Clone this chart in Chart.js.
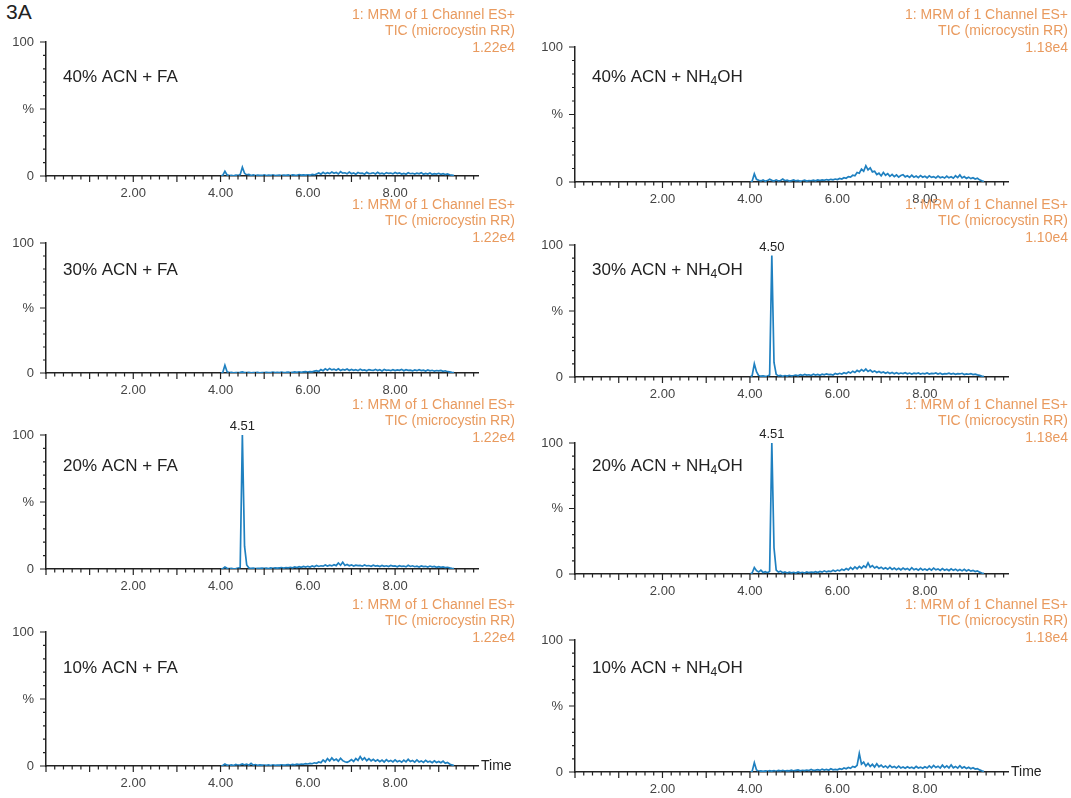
<!DOCTYPE html>
<html>
<head>
<meta charset="utf-8">
<script src="https://cdn.jsdelivr.net/npm/chart.js@4.4.1/dist/chart.umd.min.js"></script>
<style>
  html, body { margin: 0; padding: 0; background: #fff; }
  body { width: 1071px; height: 798px; position: relative; overflow: hidden; font-family: "Liberation Sans", Arial, sans-serif; }
  canvas { position: absolute; }
  #fig-label { position: absolute; left: 6px; top: 0px; font-size: 21px; color: #222; }
</style>
</head>
<body>
<div id="fig-label">3A</div>
<script>
// retention time (min), same scan grid for every trace
const TIME = [
  4.00, 4.05, 4.10, 4.15, 4.20, 4.25, 4.30, 4.35, 4.40, 4.45,
  4.50, 4.55, 4.60, 4.65, 4.70, 4.75, 4.80, 4.85, 4.90, 4.95,
  5.00, 5.05, 5.10, 5.15, 5.20, 5.25, 5.30, 5.35, 5.40, 5.45,
  5.50, 5.55, 5.60, 5.65, 5.70, 5.75, 5.80, 5.85, 5.90, 5.95,
  6.00, 6.05, 6.10, 6.15, 6.20, 6.25, 6.30, 6.35, 6.40, 6.45,
  6.50, 6.55, 6.60, 6.65, 6.70, 6.75, 6.80, 6.85, 6.90, 6.95,
  7.00, 7.05, 7.10, 7.15, 7.20, 7.25, 7.30, 7.35, 7.40, 7.45,
  7.50, 7.55, 7.60, 7.65, 7.70, 7.75, 7.80, 7.85, 7.90, 7.95,
  8.00, 8.05, 8.10, 8.15, 8.20, 8.25, 8.30, 8.35, 8.40, 8.45,
  8.50, 8.55, 8.60, 8.65, 8.70, 8.75, 8.80, 8.85, 8.90, 8.95,
  9.00, 9.05, 9.10, 9.15, 9.20, 9.25, 9.30, 9.35
];

// relative intensity (%)
const I_40_FA = [
  0, 0.5, 3.5, 0.8, 0.3, 0.5, 0.2, 0.6, 0.4, 1.0,
  6.5, 2.0, 0.8, 1.2, 0.4, 0.9, 0.3, 0.7, 0.5, 0.4,
  0.8, 0.3, 0.6, 0.4, 0.9, 0.3, 0.5, 0.7, 0.4, 0.6,
  0.5, 0.8, 0.4, 0.9, 0.6, 0.5, 1.0, 0.6, 0.8, 0.7,
  0.9, 0.6, 1.2, 0.8, 1.5, 2.2, 1.4, 2.8, 1.6, 2.5,
  1.8, 3.0, 2.0, 2.6, 1.5, 3.2, 2.1, 2.4, 1.6, 2.9,
  1.7, 2.3, 1.4, 2.6, 1.9, 2.2, 1.3, 2.7, 1.8, 2.0,
  2.4, 1.5, 2.8, 1.7, 2.1, 1.4, 2.5, 1.9, 2.2, 1.6,
  2.6, 1.8, 2.3, 1.5, 2.0, 1.3, 2.4, 1.7, 2.0, 1.4,
  2.1, 1.6, 2.5, 1.3, 1.9, 1.5, 2.2, 1.2, 1.8, 1.4,
  2.0, 1.3, 1.7, 1.1, 1.5, 0.9, 0.6, 0.3
];
const I_40_NH = [
  0, 0.6, 6.0, 2.0, 1.2, 0.8, 1.5, 0.6, 1.0, 2.0,
  1.2, 0.7, 1.6, 0.8, 1.1, 2.2, 0.9, 1.3, 0.7, 1.0,
  1.5, 0.8, 1.2, 0.6, 0.9, 1.4, 0.7, 1.1, 0.8, 1.3,
  0.9, 1.5, 1.0, 1.6, 1.2, 1.8, 1.4, 2.0, 1.6, 2.2,
  1.8, 2.6, 2.2, 3.2, 2.8, 4.0, 3.6, 5.0, 4.6, 7.0,
  6.5, 9.5, 8.0, 12.0, 9.0, 10.5, 7.5, 8.0, 5.5, 6.5,
  4.5, 7.0, 5.0, 6.2, 4.2, 5.6, 4.0, 5.2, 3.6, 4.8,
  5.4, 3.8, 4.6, 3.4, 5.0, 3.6, 4.4, 3.2, 4.8, 3.5,
  4.2, 3.1, 4.6, 3.4, 4.0, 3.0, 4.4, 3.2, 3.8, 2.9,
  4.3, 3.1, 3.9, 2.8, 4.6, 3.3, 5.2, 3.0, 4.0, 2.7,
  3.6, 2.5, 3.2, 2.2, 2.8, 1.6, 0.9, 0.4
];
const I_30_FA = [
  0, 0.4, 6.0, 1.0, 0.3, 0.5, 0.2, 0.4, 0.3, 0.5,
  0.8, 0.4, 0.3, 0.5, 0.2, 0.4, 0.3, 0.5, 0.2, 0.4,
  0.3, 0.5, 0.4, 0.3, 0.6, 0.4, 0.5, 0.3, 0.6, 0.4,
  0.5, 0.7, 0.4, 0.6, 0.8, 0.5, 0.9, 0.6, 0.8, 1.0,
  0.7, 1.1, 0.9, 1.4, 1.8, 1.2, 2.6, 1.8, 3.2, 2.2,
  3.5, 2.4, 3.0, 2.1, 3.3, 2.0, 2.8, 2.3, 3.1, 1.9,
  2.7, 2.0, 2.5, 1.8, 2.9, 2.1, 2.4, 1.7, 2.6, 2.2,
  2.0, 2.8, 1.9, 2.5, 1.6, 2.7, 2.0, 2.3, 1.8, 2.6,
  1.9, 2.4, 2.1, 2.8, 1.7, 2.5, 2.0, 2.2, 1.6, 2.4,
  1.8, 2.6, 1.9, 2.2, 1.5, 2.3, 1.7, 2.1, 1.4, 1.9,
  1.6, 2.0, 1.3, 1.7, 1.0, 0.8, 0.5, 0.3
];
const I_30_NH = [
  0, 1.0, 10.0, 4.0, 1.0, 0.6, 0.8, 0.5, 0.7, 1.5,
  92, 11, 2.0, 0.8, 1.2, 0.6, 1.0, 0.7, 1.3, 0.8,
  1.1, 1.5, 0.9, 1.8, 1.2, 2.0, 1.4, 1.7, 1.1, 2.2,
  1.5, 1.9, 1.3, 2.1, 1.6, 2.4, 1.8, 2.0, 1.5, 2.6,
  2.0, 2.8, 2.3, 3.2, 2.6, 3.8, 3.0, 4.4, 3.4, 5.0,
  4.0, 5.6, 4.4, 6.0, 4.2, 5.2, 3.8, 4.6, 3.4, 4.2,
  3.2, 3.8, 2.8, 3.6, 2.6, 3.4, 2.5, 3.2, 2.4, 3.0,
  2.6, 3.3, 2.4, 3.0, 2.3, 2.9, 2.5, 3.1, 2.2, 2.8,
  2.4, 3.0, 2.2, 2.7, 2.5, 3.1, 2.3, 2.9, 2.1, 2.6,
  2.4, 2.9, 2.2, 2.7, 2.0, 2.5, 2.3, 2.8, 1.9, 2.4,
  2.1, 2.6, 1.8, 2.2, 1.6, 1.2, 0.7, 0.3
];
const I_20_FA = [
  0, 0.3, 1.5, 0.5, 0.3, 0.4, 0.2, 0.3, 0.6, 1.2,
  100, 17, 3.0, 0.8, 0.4, 0.6, 0.3, 0.5, 0.4, 0.6,
  0.5, 0.7, 0.4, 0.8, 0.5, 0.9, 0.6, 0.8, 1.0, 0.7,
  1.1, 0.8, 1.3, 0.9, 1.5, 1.1, 1.7, 1.2, 1.9, 1.4,
  2.0, 1.5, 2.3, 1.7, 2.6, 1.9, 2.4, 2.1, 3.0, 2.2,
  2.8, 2.3, 3.2, 2.5, 4.5, 2.8, 5.0, 2.6, 3.4, 2.4,
  3.1, 2.2, 2.9, 2.5, 2.7, 2.1, 3.0, 2.3, 2.6, 2.0,
  2.8, 2.2, 2.5, 1.9, 2.7, 2.0, 2.4, 1.8, 2.6, 2.1,
  2.3, 1.7, 2.5, 1.9, 2.2, 1.6, 2.8, 1.9, 2.4, 1.7,
  2.1, 1.5, 2.3, 1.8, 2.0, 1.4, 2.2, 1.6, 1.9, 1.3,
  1.8, 1.2, 1.6, 1.1, 1.3, 0.8, 0.5, 0.3
];
const I_20_NH = [
  0, 0.8, 5.0, 2.5, 1.5, 3.0, 1.2, 1.8, 1.0, 2.0,
  100, 20, 3.0, 1.5, 2.2, 1.0, 1.6, 0.8, 1.4, 0.9,
  1.2, 0.7, 1.5, 0.9, 1.3, 0.8, 1.6, 1.0, 1.4, 1.2,
  1.8, 1.1, 2.0, 1.4, 2.4, 1.6, 2.2, 1.8, 2.8, 2.0,
  3.0, 2.4, 3.6, 2.8, 4.2, 3.2, 5.0, 3.6, 5.4, 4.0,
  5.8, 4.4, 6.2, 5.0, 8.5, 5.2, 6.4, 4.6, 5.6, 4.2,
  5.2, 3.8, 4.8, 3.6, 5.0, 3.5, 4.6, 3.3, 4.4, 3.2,
  4.6, 3.4, 4.2, 3.0, 4.8, 3.2, 4.0, 2.9, 4.3, 3.1,
  3.8, 2.8, 4.2, 3.0, 4.5, 3.2, 3.9, 2.7, 4.1, 2.9,
  3.6, 2.6, 4.0, 2.8, 3.7, 2.5, 3.4, 2.4, 3.6, 2.3,
  3.2, 2.2, 2.8, 1.9, 2.4, 1.4, 0.8, 0.3
];
const I_10_FA = [
  0, 0.4, 1.5, 0.6, 0.5, 0.8, 0.4, 1.2, 0.6, 0.9,
  1.6, 0.8, 1.3, 0.6, 2.0, 0.7, 1.0, 0.5, 0.8, 0.6,
  0.7, 0.5, 0.9, 0.4, 0.8, 0.5, 0.7, 0.6, 0.9, 0.7,
  0.8, 1.0, 0.7, 1.2, 0.9, 1.4, 1.1, 1.5, 1.3, 1.8,
  1.5, 2.0, 1.7, 2.4, 2.0, 3.0, 2.4, 4.5, 3.0, 5.5,
  3.8, 6.0, 4.2, 5.2, 3.6, 5.8, 4.0, 3.2, 2.8, 3.6,
  4.8, 3.4, 5.6, 4.2, 7.0, 4.6, 6.2, 4.0, 5.4, 3.8,
  5.0, 3.6, 4.6, 3.2, 4.4, 3.0, 4.8, 3.4, 4.2, 3.0,
  4.6, 3.2, 4.0, 2.8, 4.4, 3.1, 5.0, 3.3, 4.1, 2.9,
  4.5, 3.0, 3.8, 2.7, 4.2, 3.0, 3.6, 2.5, 3.9, 2.6,
  3.4, 2.4, 3.7, 2.0, 2.6, 1.5, 0.8, 0.4
];
const I_10_NH = [
  0, 0.5, 7.0, 1.5, 0.6, 0.9, 0.5, 0.8, 0.6, 1.0,
  0.7, 1.1, 0.6, 1.2, 0.8, 1.3, 0.7, 1.0, 0.9, 1.4,
  0.8, 1.2, 1.6, 0.9, 1.3, 1.0, 1.5, 1.1, 2.0, 1.2,
  1.4, 1.8, 1.2, 2.2, 1.5, 1.9, 1.3, 2.4, 1.6, 2.0,
  1.7, 2.5, 2.0, 3.0, 2.4, 3.4, 2.8, 4.2, 3.6, 5.0,
  14.0, 6.0, 7.5, 4.5, 6.5, 4.2, 5.8, 3.8, 6.2, 4.0,
  5.2, 3.6, 4.6, 3.2, 5.0, 3.4, 4.2, 3.0, 4.4, 3.1,
  3.8, 2.8, 4.0, 3.0, 3.6, 2.7, 4.2, 3.0, 3.7, 2.8,
  4.0, 3.0, 4.6, 3.2, 5.0, 3.4, 4.4, 3.0, 5.2, 3.3,
  4.6, 3.1, 5.4, 3.2, 4.2, 2.9, 4.8, 3.0, 4.0, 2.7,
  3.6, 2.5, 3.2, 2.2, 2.6, 1.6, 0.9, 0.4
];

// panels in reading order: left/right, top to bottom
const TRACES = [I_40_FA, I_40_NH, I_30_FA, I_30_NH, I_20_FA, I_20_NH, I_10_FA, I_10_NH];
const SAMPLES = [
  '40% ACN + FA', '40% ACN + NH4OH',
  '30% ACN + FA', '30% ACN + NH4OH',
  '20% ACN + FA', '20% ACN + NH4OH',
  '10% ACN + FA', '10% ACN + NH4OH'
];
const SCALE_MAX = ['1.22e4', '1.18e4', '1.22e4', '1.10e4', '1.22e4', '1.18e4', '1.22e4', '1.18e4'];
const PEAK_LABELS = [null, null, null, '4.50', '4.51', '4.51', null, null];
const CHANNEL = '1: MRM of 1 Channel ES+';
const COMPOUND = 'TIC (microcystin RR)';
const X_LABELS = { 2: '2.00', 4: '4.00', 6: '6.00', 8: '8.00' };
const Y_LABELS = { 0: '0', 50: '%', 100: '100' };
const X_TITLE = 'Time';

// page layout (pixels)
const COLS = [
  { left: 0, width: 530, plotL: 46, plotR: 478, headX: 515 },
  { left: 530, width: 541, plotL: 575, plotR: 1008, headX: 1068 }
];
const ROWS = [
  { top: 0,   labelY: 77,  plots: [[42, 176], [47, 182]] },
  { top: 190, labelY: 270, plots: [[243, 373], [245, 377]] },
  { top: 390, labelY: 466, plots: [[435, 569], [443, 574]] },
  { top: 590, labelY: 668, plots: [[632, 766], [640, 772]] }
];
const CANVAS_H = 210;
const X_AXIS_H = 26;
const FONT = '"Liberation Sans", Arial, sans-serif';
const TRACE_COLOR = '#1f80c0';
const HEAD_COLOR = '#e99a5e';
const INK = '#222';

Chart.defaults.font.family = FONT;

// ticks, sample name, header and peak label
const decor = {
  id: 'decor',
  afterDraw(chart, args, o) {
    const ctx = chart.ctx, xs = chart.scales.x, ys = chart.scales.y;
    const x0 = xs.left, y0 = ys.getPixelForValue(0);
    ctx.save();

    ctx.strokeStyle = INK;
    ctx.lineWidth = 1.2;
    ctx.beginPath();
    xs.ticks.forEach(t => {
      const px = xs.getPixelForValue(t.value);
      const major = Math.abs(t.value - Math.round(t.value)) < 1e-6;
      ctx.moveTo(px, y0 - 1);
      ctx.lineTo(px, y0 + (major ? 6 : 3.5));
    });
    ys.ticks.forEach(t => {
      const py = ys.getPixelForValue(t.value);
      const major = Math.round(t.value) % 50 === 0;
      ctx.moveTo(x0 - (major ? 6 : 3), py);
      ctx.lineTo(x0, py);
    });
    ctx.stroke();

    // sample name, NH4OH with subscript 4
    ctx.fillStyle = INK;
    ctx.textAlign = 'left';
    ctx.textBaseline = 'middle';
    ctx.font = '17px ' + FONT;
    const parts = o.sample.split(/(?<=NH)4(?=OH)/);
    let x = o.labelX;
    ctx.fillText(parts[0], x, o.labelY);
    x += ctx.measureText(parts[0]).width;
    if (parts.length > 1) {
      ctx.font = '12px ' + FONT;
      ctx.fillText('4', x, o.labelY + 5);
      x += ctx.measureText('4').width;
      ctx.font = '17px ' + FONT;
      ctx.fillText(parts[1], x, o.labelY);
    }

    // header, right aligned
    ctx.fillStyle = HEAD_COLOR;
    ctx.textAlign = 'right';
    ctx.font = '14px ' + FONT;
    [CHANNEL, COMPOUND, o.scaleMax].forEach((s, i) => {
      ctx.fillText(s, o.headX, o.headY + i * 16.5);
    });

    // peak apex label
    if (o.peak) {
      const data = chart.data.datasets[0].data;
      let best = data[0];
      data.forEach(p => { if (p.y > best.y) best = p; });
      ctx.fillStyle = INK;
      ctx.textAlign = 'center';
      ctx.textBaseline = 'bottom';
      ctx.font = '13px ' + FONT;
      ctx.fillText(o.peak, xs.getPixelForValue(best.x), ys.getPixelForValue(best.y) - 2);
    }

    if (o.timeTitle) {
      ctx.fillStyle = INK;
      ctx.textAlign = 'left';
      ctx.textBaseline = 'middle';
      ctx.font = '14px ' + FONT;
      ctx.fillText(o.timeTitle, xs.right + 3, y0);
    }
    ctx.restore();
  }
};

TRACES.forEach((vals, k) => {
  const col = COLS[k % 2], row = ROWS[Math.floor(k / 2)];
  const [plotTop, plotBottom] = row.plots[k % 2];
  const canvas = document.createElement('canvas');
  canvas.width = col.width;
  canvas.height = CANVAS_H;
  canvas.style.left = col.left + 'px';
  canvas.style.top = row.top + 'px';
  canvas.style.width = col.width + 'px';
  canvas.style.height = CANVAS_H + 'px';
  document.body.appendChild(canvas);

  const yAxisW = col.plotL - col.left;
  new Chart(canvas, {
    type: 'line',
    data: {
      datasets: [{
        data: TIME.map((t, i) => ({ x: t, y: vals[i] })),
        borderColor: TRACE_COLOR,
        borderWidth: 1.7,
        pointRadius: 0,
        tension: 0,
        fill: false
      }]
    },
    options: {
      responsive: false,
      animation: false,
      events: [],
      layout: {
        padding: {
          top: plotTop - row.top,
          right: col.left + col.width - col.plotR,
          bottom: CANVAS_H - (plotBottom - row.top) - X_AXIS_H,
          left: 0
        }
      },
      scales: {
        x: {
          type: 'linear',
          min: 0,
          max: 9.9,
          afterFit: s => { s.height = X_AXIS_H; },
          grid: { display: false, drawTicks: false },
          border: { display: true, color: INK, width: 1.5 },
          ticks: {
            stepSize: 0.2,
            autoSkip: false,
            maxRotation: 0,
            includeBounds: false,
            padding: 10,
            color: '#444',
            font: { size: 13 },
            callback: v => X_LABELS[Math.round(v * 100) / 100] || ''
          }
        },
        y: {
          min: 0,
          max: 100,
          afterFit: s => { s.width = yAxisW; },
          grid: { display: false, drawTicks: false },
          border: { display: true, color: INK, width: 1.5 },
          ticks: {
            stepSize: 10,
            autoSkip: false,
            padding: 12,
            color: '#444',
            font: { size: 13 },
            callback: v => Y_LABELS[Math.round(v)] ?? ''
          }
        }
      },
      plugins: {
        legend: { display: false },
        tooltip: { enabled: false },
        decor: {
          sample: SAMPLES[k],
          scaleMax: SCALE_MAX[k],
          peak: PEAK_LABELS[k],
          labelX: col.plotL - col.left + 17,
          labelY: row.labelY - row.top,
          headX: col.headX - col.left,
          headY: 15,
          timeTitle: k >= 6 ? X_TITLE : null
        }
      }
    },
    plugins: [decor]
  });
});
</script>
</body>
</html>
